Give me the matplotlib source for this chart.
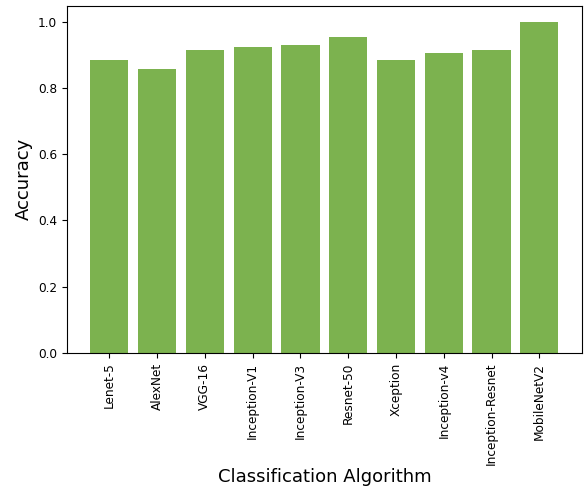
import matplotlib
matplotlib.use("Agg")
import matplotlib.pyplot as plt

algorithms = ["Lenet-5", "AlexNet", "VGG-16", "Inception-V1", "Inception-V3",
              "Resnet-50", "Xception", "Inception-v4", "Inception-Resnet", "MobileNetV2"]
accuracy = [0.885, 0.856, 0.914, 0.925, 0.929, 0.954, 0.885, 0.907, 0.914, 0.998]

fig, ax = plt.subplots(figsize=(5.86, 4.88), dpi=100)
ax.bar(algorithms, accuracy, color="#7cb24f")
ax.set_xlabel("Classification Algorithm", fontsize=13, labelpad=2)
ax.set_ylabel("Accuracy", fontsize=13)
ax.tick_params(axis="x", labelrotation=90, labelsize=8.7)
ax.tick_params(axis="y", labelsize=8.7)
plt.subplots_adjust(left=0.114, right=0.993, top=0.988, bottom=0.277)
plt.savefig("out.png")
